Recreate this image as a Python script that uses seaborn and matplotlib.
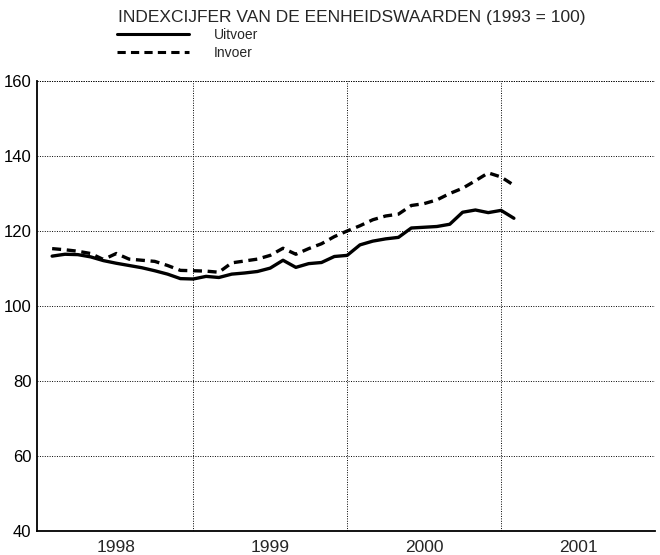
import numpy as np
import pandas as pd
import matplotlib
matplotlib.use("Agg")
import matplotlib.pyplot as plt
import seaborn as sns
from matplotlib.lines import Line2D
from matplotlib.ticker import FixedLocator, MultipleLocator, NullFormatter

# ---- data (monthly, Jan 1998 .. Jan 2001) ----
months = pd.period_range("1998-01", "2001-01", freq="M")
uitvoer = [113.3, 113.8, 113.7, 113.1, 112.1, 111.4, 110.8, 110.2, 109.4, 108.5, 107.3, 107.2,
           107.9, 107.6, 108.5, 108.8, 109.2, 110.1, 112.2, 110.3, 111.3, 111.6, 113.2, 113.5,
           116.3, 117.3, 117.9, 118.3, 120.8, 121.0, 121.2, 121.8, 125.0, 125.6, 124.9, 125.5,
           123.4]
invoer = [115.3, 115.0, 114.6, 114.0, 112.4, 114.0, 112.5, 112.2, 111.9, 110.8, 109.5, 109.4,
          109.3, 109.0, 111.5, 112.0, 112.5, 113.5, 115.4, 113.8, 115.3, 116.6, 118.5, 120.0,
          121.4, 123.0, 124.0, 124.5, 126.8, 127.3, 128.3, 130.0, 131.4, 133.4, 135.5, 134.4,
          132.2]
series_names = ["Uitvoer", "Invoer"]
year_labels = ["1998", "1999", "2000", "2001"]
title = "INDEXCIJFER VAN DE EENHEIDSWAARDEN (1993 = 100)"

# fractional-year position (end of month)
xpos = np.array([p.year + p.month / 12 for p in months])

df = pd.concat([
    pd.DataFrame({"x": xpos, "value": uitvoer, "series": series_names[0]}),
    pd.DataFrame({"x": xpos, "value": invoer, "series": series_names[1]}),
])

sns.set_theme(style="white")
plt.rcParams["font.family"] = ["Liberation Sans", "DejaVu Sans"]

DASH = (2.7, 1.7)

fig = plt.figure(figsize=(6.6, 5.55), dpi=100)
ax = fig.add_axes([37/660, 24/555, (655-37)/660, (531-81)/555])

sns.lineplot(data=df, x="x", y="value", style="series",
             dashes={"Uitvoer": "", "Invoer": DASH},
             color="black", linewidth=2.4, legend=False, ax=ax)

ax.set_xlim(1997.985, 2002.0)
ax.set_ylim(40, 160)
ax.set_xlabel("")
ax.set_ylabel("")

# y axis
ax.yaxis.set_major_locator(MultipleLocator(20))
ax.yaxis.set_minor_locator(MultipleLocator(10))
ax.tick_params(axis="y", which="major", direction="out", length=3, width=1,
               labelsize=12, pad=1, colors="black")
ax.tick_params(axis="y", which="minor", direction="in", length=3, width=1)

# x axis: monthly minor ticks, year-boundary major ticks, labels centered on years
years = [int(y) for y in year_labels]
ax.xaxis.set_major_locator(FixedLocator([y + 1 for y in years[:-1]]))
ax.xaxis.set_minor_locator(FixedLocator([y + m / 12 for y in years for m in range(1, 12)]))
ax.xaxis.set_major_formatter(NullFormatter())
ax.tick_params(axis="x", which="major", direction="in", length=8, width=1)
ax.tick_params(axis="x", which="minor", direction="in", length=4, width=1)
for y, lab in zip(years, year_labels):
    ax.text(y + 0.5, -0.019, lab, transform=ax.get_xaxis_transform(),
            ha="center", va="top", fontsize=12.5)

ax.grid(True, which="major", axis="both", color="black", linestyle=(0, (1, 1.5)), linewidth=0.7)
ax.set_axisbelow(True)
for s in ["top", "right"]:
    ax.spines[s].set_visible(False)
for s in ["left", "bottom"]:
    ax.spines[s].set_color("black")
    ax.spines[s].set_linewidth(1.3)
ax.axhline(160, color="black", linestyle=(0, (1, 1.5)), linewidth=0.7)

fig.text(118/660, 1 - 10/555, title, ha="left", va="top", fontsize=12.5)

handles = [Line2D([], [], color="black", linewidth=2.2),
           Line2D([], [], color="black", linewidth=2.2, dashes=DASH)]
fig.legend(handles, series_names, loc="upper left", bbox_to_anchor=(117/660, 1 - 28/555),
           frameon=False, fontsize=10, handlelength=5.2, handletextpad=1.8,
           labelspacing=0.3, borderpad=0, borderaxespad=0)

fig.savefig("out.png", dpi=100)
